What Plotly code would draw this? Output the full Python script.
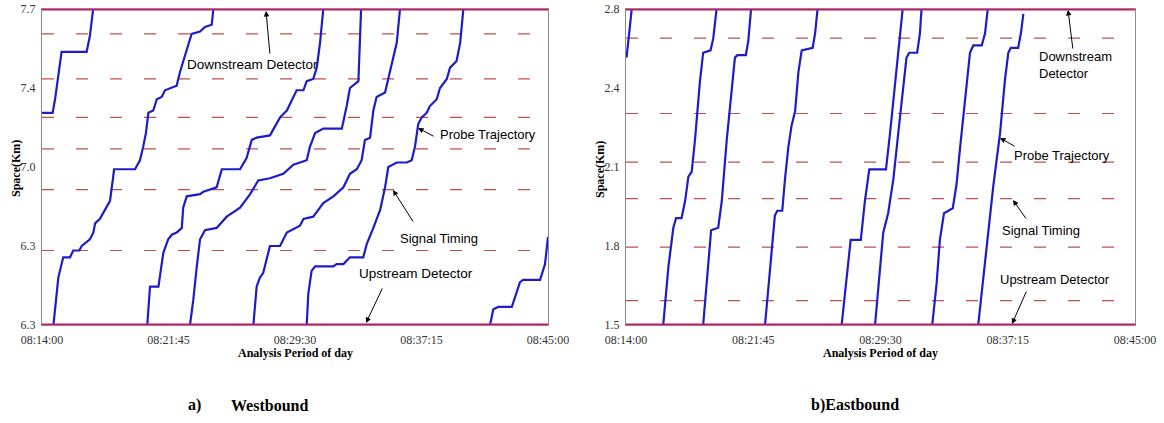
import pandas as pd
import plotly.graph_objects as go

# ---------------- data ----------------
DAY = "2024-01-01"
START = "08:14:00"
END = "08:45:00"
tick_labels = ["08:14:00", "08:21:45", "08:29:30", "08:37:15", "08:45:00"]

# Westbound: seconds after 08:14:00, space in km
wb_time_s = [
    [0, 39, 48, 60, 72, 164, 176, 188],
    [42, 60, 78, 103, 115, 137, 146, 176, 189, 195, 213, 232, 250, 262, 265, 342, 360, 372, 382, 391,
     409, 422, 440, 452, 471, 495, 507, 532, 550, 581, 599, 624, 630],
    [387, 397, 428, 446, 464, 477, 495, 514, 519, 532, 581, 593, 642, 661, 728, 752, 771, 789, 838, 875,
     900, 936, 961, 973, 997, 1010, 1022, 1034],
    [544, 556, 569, 581, 599, 642, 679, 728, 765, 795, 838, 887, 924, 948, 973, 985, 1004, 1034, 1102, 1120,
     1132, 1163, 1166, 1173],
    [777, 789, 801, 813, 838, 875, 900, 948, 961, 997, 1034, 1071, 1108, 1132, 1157, 1175, 1187, 1206, 1218,
     1230, 1261, 1279, 1304, 1316],
    [973, 979, 991, 1004, 1071, 1083, 1108, 1132, 1181, 1194, 1218, 1243, 1261, 1273, 1304, 1341, 1359, 1371,
     1383, 1396, 1414, 1426, 1451, 1463, 1488, 1500, 1524, 1537, 1549],
    [1647, 1659, 1677, 1727, 1757, 1769, 1831, 1849, 1860],
]
wb_space_km = [
    [7.24, 7.24, 7.30, 7.40, 7.51, 7.51, 7.58, 7.70],
    [6.30, 6.51, 6.60, 6.60, 6.63, 6.63, 6.65, 6.68, 6.71, 6.75, 6.77, 6.81, 6.85, 6.96, 6.99, 6.99, 7.03, 7.09,
     7.15, 7.24, 7.25, 7.30, 7.31, 7.34, 7.35, 7.36, 7.42, 7.52, 7.59, 7.60, 7.62, 7.63, 7.70],
    [6.30, 6.47, 6.47, 6.62, 6.68, 6.70, 6.71, 6.73, 6.82, 6.87, 6.88, 6.89, 6.91, 6.99, 6.99, 7.04, 7.12, 7.13,
     7.14, 7.22, 7.25, 7.34, 7.34, 7.38, 7.39, 7.44, 7.55, 7.70],
    [6.30, 6.41, 6.56, 6.68, 6.72, 6.73, 6.78, 6.82, 6.88, 6.94, 6.95, 6.97, 7.01, 7.02, 7.03, 7.09, 7.15, 7.17,
     7.17, 7.27, 7.35, 7.38, 7.47, 7.70],
    [6.30, 6.47, 6.51, 6.53, 6.65, 6.65, 6.71, 6.74, 6.77, 6.78, 6.84, 6.87, 6.91, 6.97, 6.99, 7.03, 7.12, 7.13,
     7.25, 7.31, 7.33, 7.42, 7.55, 7.70],
    [6.30, 6.44, 6.54, 6.56, 6.56, 6.57, 6.57, 6.60, 6.60, 6.66, 6.73, 6.81, 6.91, 7.00, 7.02, 7.02, 7.03, 7.09,
     7.19, 7.22, 7.24, 7.27, 7.30, 7.35, 7.39, 7.44, 7.47, 7.55, 7.70],
    [6.30, 6.37, 6.38, 6.38, 6.49, 6.50, 6.50, 6.57, 6.69],
]
wb_signal_km = [7.59, 7.39, 7.22, 7.08, 6.90, 6.63]
wb_range = [6.3, 7.7]
wb_tickvals = [7.7, 7.35, 7.0, 6.65, 6.3]
wb_ticktext = ["7.7", "7.4", "7.0", "6.3", "6.3"]

# Eastbound
eb_time_s = [
    [2, 12, 21],
    [136, 155, 173, 183, 203, 216, 228, 240, 252, 270, 282, 309, 319, 331],
    [282, 297, 311, 337, 350, 368, 386, 398, 407, 438, 447, 457],
    [508, 526, 544, 553, 571, 581, 593, 605, 618, 630, 642, 682, 691, 700],
    [788, 806, 821, 858, 873, 889, 898, 950, 965, 983, 999, 1011],
    [910, 926, 940, 958, 977, 995, 1013, 1025, 1035, 1064, 1074, 1080],
    [1119, 1135, 1147, 1162, 1194, 1208, 1220, 1239, 1257, 1269, 1300, 1312, 1322],
    [1287, 1306, 1324, 1342, 1367, 1385, 1397, 1406, 1433, 1443, 1452],
]
eb_space_km = [
    [2.60, 2.70, 2.80],
    [1.50, 1.74, 1.90, 1.94, 1.94, 2.01, 2.11, 2.13, 2.26, 2.50, 2.62, 2.63, 2.68, 2.80],
    [1.50, 1.71, 1.89, 1.90, 2.01, 2.26, 2.47, 2.60, 2.61, 2.61, 2.67, 2.80],
    [1.50, 1.74, 1.95, 1.97, 1.97, 2.10, 2.23, 2.32, 2.38, 2.54, 2.63, 2.64, 2.70, 2.80],
    [1.50, 1.70, 1.85, 1.85, 2.01, 2.14, 2.14, 2.14, 2.29, 2.50, 2.66, 2.80],
    [1.50, 1.71, 1.88, 1.96, 2.10, 2.29, 2.48, 2.60, 2.62, 2.62, 2.70, 2.80],
    [1.50, 1.67, 1.85, 1.96, 1.98, 2.08, 2.22, 2.43, 2.62, 2.65, 2.65, 2.70, 2.80],
    [1.50, 1.70, 1.90, 2.07, 2.29, 2.51, 2.62, 2.64, 2.64, 2.70, 2.78],
]
eb_signal_km = [2.68, 2.37, 2.17, 2.02, 1.82, 1.60]
eb_range = [1.5, 2.8]
eb_tickvals = [2.8, 2.475, 2.15, 1.825, 1.5]
eb_ticktext = ["2.8", "2.4", "2.1", "1.8", "1.5"]

# ---------------- styling ----------------
W, H = 1164, 423
BLUE = "#1c1cc8"
PINK = "#dc0a6e"
DASH_RED = "#c0504a"
SERIF = "Liberation Serif, Times New Roman, serif"
SANS = "Liberation Sans, Arial, sans-serif"

t0 = pd.Timestamp(DAY + " " + START)
t_end = pd.Timestamp(DAY + " " + END)


def iso(ts):
    return ts.strftime("%Y-%m-%d %H:%M:%S")


def to_time(secs):
    return [iso(t0 + pd.Timedelta(seconds=s)) for s in secs]


x_lo, x_hi = iso(t0), iso(t_end)
tick_times = [DAY + " " + t for t in tick_labels]

fig = go.Figure()

panels = [
    ("x", "y", wb_time_s, wb_space_km, wb_signal_km, wb_range),
    ("x2", "y2", eb_time_s, eb_space_km, eb_signal_km, eb_range),
]
for xa, ya, times, spaces, signals, rng in panels:
    for s in signals:
        fig.add_trace(go.Scatter(x=[x_lo, x_hi], y=[s, s], xaxis=xa, yaxis=ya, mode="lines",
                                 line=dict(color=DASH_RED, width=1.2, dash="12px,22px"),
                                 hoverinfo="skip", showlegend=False))
    for tt, ss in zip(times, spaces):
        fig.add_trace(go.Scatter(x=to_time(tt), y=ss, xaxis=xa, yaxis=ya, mode="lines",
                                 line=dict(color=BLUE, width=2.2), showlegend=False))
    for edge in rng:
        fig.add_trace(go.Scatter(x=[x_lo, x_hi], y=[edge, edge], xaxis=xa, yaxis=ya, mode="lines",
                                 line=dict(color=PINK, width=3.2), hoverinfo="skip",
                                 showlegend=False, cliponaxis=False))

xdom1 = [42 / W, 548 / W]
xdom2 = [626 / W, 1135 / W]
ydom = [1 - 325 / H, 1 - 9 / H]

xcommon = dict(type="date", range=[x_lo, x_hi], autorange=False, tickmode="array",
               tickvals=tick_times, ticktext=tick_labels,
               showgrid=False, zeroline=False, showline=True, linecolor="#8a8a8a", linewidth=1,
               mirror=True, ticks="", tickfont=dict(family=SERIF, size=12, color="#333333"),
               ticklabelstandoff=4)
ycommon = dict(showgrid=False, zeroline=False, showline=True, linecolor="#8a8a8a", linewidth=1,
               mirror=True, ticks="", tickmode="array", autorange=False,
               tickfont=dict(family=SERIF, size=12, color="#333333"), ticklabelstandoff=3)

fig.update_layout(
    width=W, height=H, margin=dict(l=0, r=0, t=0, b=0, autoexpand=False),
    paper_bgcolor="white", plot_bgcolor="white", showlegend=False,
    xaxis=dict(domain=xdom1, anchor="y", **xcommon),
    yaxis=dict(domain=ydom, anchor="x", range=wb_range, tickvals=wb_tickvals, ticktext=wb_ticktext, **ycommon),
    xaxis2=dict(domain=xdom2, anchor="y2", **xcommon),
    yaxis2=dict(domain=ydom, anchor="x2", range=eb_range, tickvals=eb_tickvals, ticktext=eb_ticktext, **ycommon),
)


def px(x):
    return x / W


def py(y):
    return 1 - y / H


annotations = []


def text(x, y, s, size=13, family=SANS, bold=False, xanchor="center", align="center", angle=0):
    if bold:
        s = "<b>" + s + "</b>"
    annotations.append(dict(xref="paper", yref="paper", x=px(x), y=py(y), text=s, showarrow=False,
                            font=dict(family=family, size=size, color="black"), xanchor=xanchor,
                            yanchor="middle", align=align, textangle=angle))


def arrow(tipx, tipy, tailx, taily):
    annotations.append(dict(xref="paper", yref="paper", x=px(tipx), y=py(tipy), text="",
                            showarrow=True, ax=tailx - tipx, ay=taily - tipy, arrowhead=2,
                            arrowsize=1.1, arrowwidth=1, arrowcolor="black", standoff=0))


# left panel labels
text(252, 64, "Downstream Detector", size=13.5)
arrow(266, 11, 270, 55)
text(438, 134, "Probe Trajectory", xanchor="left")
arrow(418, 128, 435, 137)
text(439, 238, "Signal Timing")
arrow(393, 190, 414, 223)
text(416, 273, "Upstream Detector", size=13.5)
arrow(366, 323, 383, 287)

# right panel labels
text(1037, 65, "Downstream<br>Detector", xanchor="left", align="left")
arrow(1068, 10, 1073, 50)
text(1012, 155, "Probe Trajectory", xanchor="left")
arrow(1000, 138, 1016, 147)
text(1041, 230, "Signal Timing")
arrow(1013, 200, 1027, 220)
text(1055, 279, "Upstream Detector")
arrow(1012, 324, 1027, 290)

# axis titles
text(295, 353, "Analysis Period of day", size=12, family=SERIF, bold=True)
text(880, 353, "Analysis Period of day", size=12, family=SERIF, bold=True)
text(16, 169, "Space(Km)", size=12, family=SERIF, bold=True, angle=-90)
text(600, 169, "Space(Km)", size=12, family=SERIF, bold=True, angle=-90)

# captions
text(194, 405, "a)", size=16, family=SERIF, bold=True)
text(269, 405, "Westbound", size=16, family=SERIF, bold=True)
text(855, 405, "b)Eastbound", size=16, family=SERIF, bold=True)

fig.update_layout(annotations=annotations)

fig.write_html("out.html")
